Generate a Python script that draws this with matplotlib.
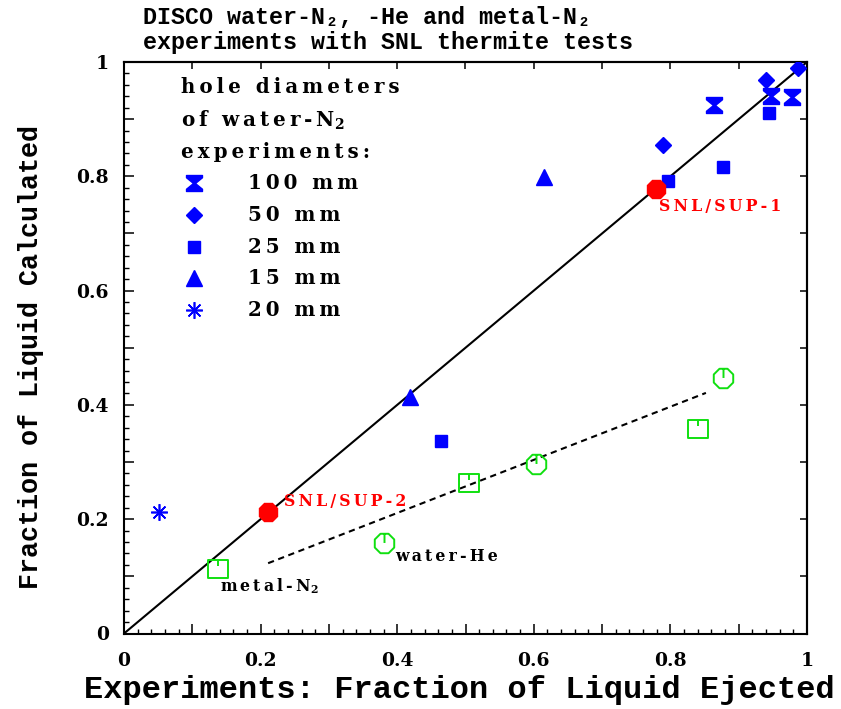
import numpy as np
import matplotlib
matplotlib.use("Agg")
import matplotlib.pyplot as plt
from matplotlib.path import Path
from matplotlib.ticker import MultipleLocator, FuncFormatter

plt.rcParams['mathtext.fontset'] = 'dejavuserif'

# ---- data -------------------------------------------------------------
# water-N2 experiments, by hole diameter: (ejected, calculated)
d100_x = [0.864, 0.947, 0.978]
d100_y = [0.924, 0.940, 0.938]
d50_x = [0.789, 0.940, 0.987]
d50_y = [0.855, 0.968, 0.989]
d25_x = [0.464, 0.796, 0.877, 0.944]
d25_y = [0.337, 0.792, 0.817, 0.911]
d15_x = [0.419, 0.615]
d15_y = [0.414, 0.798]
d20_x = [0.051]
d20_y = [0.213]

# water-He and metal-N2 experiments
he_x = [0.381, 0.603, 0.877]
he_y = [0.159, 0.297, 0.447]
metal_x = [0.138, 0.505, 0.840]
metal_y = [0.113, 0.264, 0.358]

# SNL thermite tests
snl_names = ["SNL/SUP-1", "SNL/SUP-2"]
snl_x = [0.779, 0.211]
snl_y = [0.778, 0.213]

# trend of the gas-driven cases
fit_x = [0.211, 0.852]
fit_y = [0.123, 0.421]

legend_labels = ["100 mm", "50 mm", "25 mm", "15 mm", "20 mm"]

BLUE = "#0000ff"
RED = "#ff0000"
GREEN = "#10e010"

# ---- marker shapes ----------------------------------------------------
hourglass = Path([(-1, 1), (1, 1), (1, 0.72), (0.12, 0), (1, -0.72), (1, -1),
                  (-1, -1), (-1, -0.72), (-0.12, 0), (-1, 0.72), (-1, 1)],
                 [Path.MOVETO] + [Path.LINETO] * 9 + [Path.CLOSEPOLY])

ang = np.deg2rad(22.5 + 45 * np.arange(8))
oct_pts = list(zip(np.cos(ang), np.sin(ang)))
top = np.sin(np.deg2rad(67.5))
octo_tick = Path(oct_pts + [oct_pts[0], (0, top), (0, 0.05)],
                 [Path.MOVETO] + [Path.LINETO] * 7 + [Path.CLOSEPOLY, Path.MOVETO, Path.LINETO])
square_tick = Path([(-1, -0.9), (1, -0.9), (1, 0.9), (-1, 0.9), (-1, -0.9), (0, 0.9), (0, 0.35)],
                   [Path.MOVETO, Path.LINETO, Path.LINETO, Path.LINETO, Path.CLOSEPOLY,
                    Path.MOVETO, Path.LINETO])


def tracked(s, sep="\u2009"):
    """Spread the letters of a label apart."""
    return sep.join(s)


SERIF_B = dict(family="DejaVu Serif", weight="heavy")
MONO_B = dict(family=["Liberation Mono", "DejaVu Sans Mono"], weight="bold")

fig = plt.figure(figsize=(8.41, 7.09), dpi=100)
ax = fig.add_axes([124 / 841, 1 - 633.5 / 709, 683 / 841, 571.5 / 709])
ax.set_xlim(0, 1)
ax.set_ylim(0, 1)

# reference diagonal and trend line
ax.plot([0, 1], [0, 1], color="black", lw=1.5, zorder=2)
ax.plot(fit_x, fit_y, color="black", lw=1.5, ls=(0, (3, 2.2)), zorder=2)

# water-N2 points
ax.plot(d100_x, d100_y, ls="none", marker=hourglass, ms=11.5, color=BLUE, mec=BLUE, zorder=4)
ax.plot(d50_x, d50_y, ls="none", marker="D", ms=8, color=BLUE, zorder=4)
ax.plot(d25_x, d25_y, ls="none", marker="s", ms=8.3, color=BLUE, zorder=4)
ax.plot(d15_x, d15_y, ls="none", marker="^", ms=12, color=BLUE, zorder=4)
ax.plot(d20_x, d20_y, ls="none", marker=(8, 2, 0), ms=12, mew=1.2, color=BLUE, zorder=4)

# water-He and metal-N2 points
ax.plot(he_x, he_y, ls="none", marker=octo_tick, ms=14, mfc="none", mec=GREEN, mew=1.4, zorder=4)
ax.plot(metal_x, metal_y, ls="none", marker=square_tick, ms=14, mfc="none", mec=GREEN, mew=1.4, zorder=4)

# SNL tests
ax.plot(snl_x, snl_y, ls="none", marker="8", ms=14.5, color=RED, zorder=5)

lab_fs = 11.3
ax.annotate(tracked(snl_names[0]), (snl_x[0], snl_y[0]), xytext=(3, -18),
            textcoords="offset pixels", color=RED, fontsize=lab_fs, va="center", ha="left", **SERIF_B)
ax.annotate(tracked(snl_names[1]), (snl_x[1], snl_y[1]), xytext=(16, 10),
            textcoords="offset pixels", color=RED, fontsize=lab_fs, va="center", ha="left", **SERIF_B)
ax.annotate(tracked("water-He"), (he_x[0], he_y[0]), xytext=(11, -14),
            textcoords="offset pixels", color="black", fontsize=lab_fs, va="center", ha="left", **SERIF_B)
ax.annotate(tracked("metal-N") + r"$_\mathbf{2}$", (metal_x[0], metal_y[0]), xytext=(2, -17),
            textcoords="offset pixels", color="black", fontsize=lab_fs, va="center", ha="left", **SERIF_B)

# legend block


def ax_xy(px, py):
    return (px - 124) / 683, (633.5 - py) / 571.5


leg_fs = 14.3
for txt, py in [(tracked("hole diameters"), 87),
                (tracked("of water-N") + r"$_\mathbf{2}$", 120),
                (tracked("experiments:"), 152)]:
    ax.text(*ax_xy(181, py), txt, transform=ax.transAxes, fontsize=leg_fs,
            ha="left", va="center", **SERIF_B)

keys = [dict(marker=hourglass, ms=11.5), dict(marker="D", ms=8), dict(marker="s", ms=8.3),
        dict(marker="^", ms=12), dict(marker=(8, 2, 0), ms=12, mew=1.2)]
rows_py = [183, 215, 247, 278, 310]
for lab, key, py in zip(legend_labels, keys, rows_py):
    ax.plot(*ax_xy(194, py), ls="none", color=BLUE, transform=ax.transAxes, clip_on=False, **key)
    ax.text(*ax_xy(248, py), tracked(lab), transform=ax.transAxes, fontsize=leg_fs,
            ha="left", va="center", **SERIF_B)

# axes styling
for sp in ax.spines.values():
    sp.set_linewidth(1.5)

ax.xaxis.set_major_locator(MultipleLocator(0.1))
ax.yaxis.set_major_locator(MultipleLocator(0.1))
ax.xaxis.set_minor_locator(MultipleLocator(0.02))
ax.yaxis.set_minor_locator(MultipleLocator(0.02))


def fmt(v, pos):
    k = int(round(v * 10))
    if k % 2:
        return ""
    if k == 0:
        return "0"
    if k == 10:
        return "1"
    return f"{v:.1f}"


ax.xaxis.set_major_formatter(FuncFormatter(fmt))
ax.yaxis.set_major_formatter(FuncFormatter(fmt))
ax.tick_params(which="major", direction="in", length=7.2, width=1.1, labelsize=13.5, pad=11)
ax.tick_params(which="minor", direction="in", length=3.6, width=1.0)
ax.tick_params(axis="x", which="major", pad=13)
for lbl in ax.get_xticklabels() + ax.get_yticklabels():
    lbl.set_fontfamily("DejaVu Serif")
    lbl.set_fontweight("bold")

sx = ax.secondary_xaxis("top")
sy = ax.secondary_yaxis("right")
side_ticks = np.linspace(0, 1, 11)
for sec in (sx, sy):
    sec.set_ticks(side_ticks, labels=[""] * len(side_ticks))
    sec.tick_params(direction="in", length=5, width=1.1)
    for sp in sec.spines.values():
        sp.set_linewidth(1.5)

ax.set_xlabel("Experiments: Fraction of Liquid Ejected", fontsize=23, **MONO_B)
ax.set_ylabel("Fraction of Liquid Calculated", fontsize=19.3, **MONO_B)
ax.xaxis.label.set_va("center")
ax.yaxis.label.set_va("center")
ax.xaxis.set_label_coords((459 - 124) / 683, (633.5 - 690) / 571.5)
ax.yaxis.set_label_coords((31 - 124) / 683, (633.5 - 357) / 571.5)

fig.text(143 / 841, 1 - 17 / 709, "DISCO water-N\u2082, -He and metal-N\u2082",
         fontsize=16.8, ha="left", va="center", **MONO_B)
fig.text(143 / 841, 1 - 42 / 709, "experiments with SNL thermite tests",
         fontsize=16.8, ha="left", va="center", **MONO_B)

fig.savefig("out.png", dpi=100)
